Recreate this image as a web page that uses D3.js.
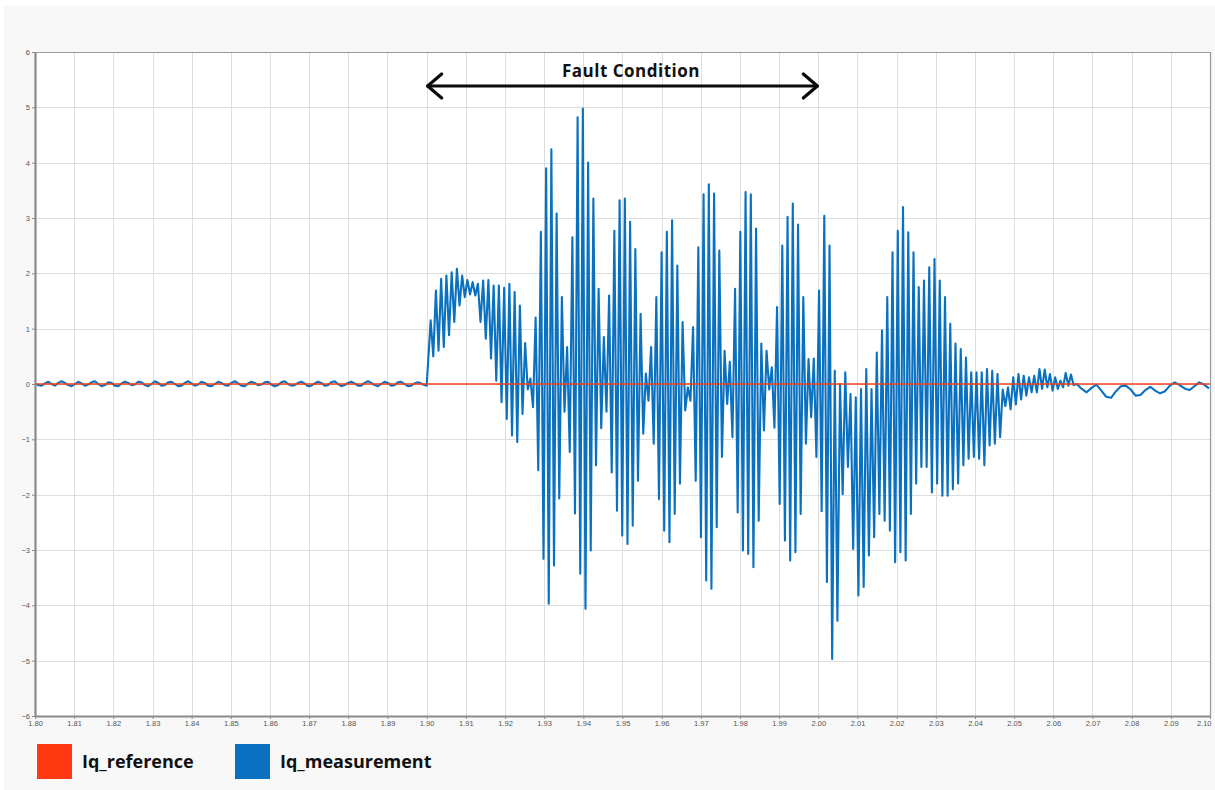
<!DOCTYPE html>
<html>
<head>
<meta charset="utf-8">
<script src="https://cdn.jsdelivr.net/npm/d3@7"></script>
<style>
  html, body { margin: 0; padding: 0; background: #ffffff; }
  svg { display: block; }
</style>
</head>
<body>
<svg id="chart" width="1215" height="790"></svg>
<script>
// ---- Series: Iq measurement (pu) ----
// Steady state before the fault, sampled every 0.85 ms from t = 1.80 s
const preFaultStart = 1.80;
const preFaultStep = 0.00085;
const preFault = [
  0.0, -0.02, -0.03, 0.01, 0.04, 0.0, -0.03, 0.02, 0.05, 0.02,
  -0.02, -0.04, 0.0, 0.04, 0.01, -0.03, -0.01, 0.03, 0.05, 0.0,
  -0.04, -0.02, 0.03, 0.02, -0.03, -0.04, 0.01, 0.04, 0.02, -0.02,
  -0.01, 0.04, 0.03, -0.02, -0.04, 0.0, 0.05, 0.02, -0.03, -0.02,
  0.03, 0.04, 0.0, -0.04, -0.03, 0.02, 0.05, 0.01, -0.03, -0.01,
  0.04, 0.02, -0.03, -0.04, 0.0, 0.04, 0.02, -0.02, -0.03, 0.02,
  0.05, 0.01, -0.03, -0.04, 0.01, 0.04, 0.02, -0.02, -0.01, 0.03,
  0.04, -0.01, -0.04, -0.02, 0.03, 0.05, 0.0, -0.03, -0.02, 0.02,
  0.04, 0.01, -0.04, -0.03, 0.01, 0.04, 0.02, -0.03, -0.02, 0.03,
  0.05, 0.0, -0.04, -0.02, 0.02, 0.04, 0.01, -0.03, -0.03, 0.02,
  0.05, 0.02, -0.02, -0.04, 0.0, 0.04, 0.02, -0.03, -0.02, 0.03,
  0.04, 0.0, -0.04, -0.03, 0.01, 0.03, 0.01, -0.02
];

// Fault onset
const onsetTime = 1.9000;
const onsetValue = -0.03;

// Oscillation during and after the fault: one peak and one trough per cycle
const faultStart = 1.90102;
const faultHalfPeriod = 0.00067;
const faultPeaks = [
  1.15, 1.69, 1.9, 1.96, 2.02, 2.08, 1.96, 1.88, 1.84, 1.81,
  1.87, 1.88, 1.78, 1.78, 1.74, 1.81, 1.66, 1.42, 0.74, 0.1,
  1.2, 2.75, 3.9, 4.24, 3.08, 1.57, 0.67, 2.65, 4.82, 4.98,
  4.0, 3.35, 1.72, 0.85, 1.6, 2.77, 3.32, 3.35, 2.93, 2.44,
  1.27, 0.19, 0.67, 1.57, 2.38, 2.75, 2.96, 2.14, 1.12, -0.06,
  1.03, 2.47, 3.43, 3.61, 3.44, 2.41, 0.6, 0.4, 1.72, 2.75,
  3.47, 3.43, 2.81, 0.73, 0.6, 0.3, 1.39, 2.5, 3.02, 3.26,
  2.88, 1.57, 0.45, 0.46, 1.69, 3.04, 2.5, 0.24, 0.0, 0.21,
  -0.18, -0.24, -0.09, 0.27, -0.09, 0.57, 0.97, 1.57, 2.38, 2.77,
  3.2, 2.74, 2.38, 1.75, 1.87, 2.11, 2.26, 1.87, 1.57, 1.09,
  0.73, 0.63, 0.48, 0.21, 0.21, 0.21, 0.27, 0.24, 0.18, -0.1,
  -0.06, 0.12, 0.18, 0.15, 0.12, 0.15, 0.27, 0.26, 0.18, 0.12,
  0.06, 0.2, 0.17
];
const faultTroughs = [
  0.5, 0.6, 0.67, 0.88, 1.12, 1.42, 1.57, 1.62, 1.6, 1.12,
  0.82, 0.46, 0.06, -0.33, -0.63, -0.93, -1.05, -0.54, -0.1, -0.42,
  -1.56, -3.16, -3.97, -3.28, -2.07, -0.5, -1.23, -2.34, -3.43, -4.06,
  -3.01, -1.47, -0.8, -0.5, -1.6, -2.29, -2.74, -2.89, -2.56, -1.75,
  -0.9, -0.3, -1.08, -2.08, -2.65, -2.86, -2.35, -1.8, -0.48, -0.3,
  -1.75, -2.77, -3.55, -3.7, -2.59, -1.32, -0.36, -0.96, -2.32, -3.01,
  -3.07, -3.31, -2.47, -0.84, -0.1, -0.79, -2.17, -2.83, -3.19, -3.04,
  -2.35, -1.08, -0.6, -1.32, -2.3, -3.58, -4.97, -4.28, -1.99, -1.5,
  -2.98, -3.82, -3.67, -3.1, -2.77, -2.35, -2.47, -2.65, -3.22, -3.04,
  -3.19, -2.35, -1.8, -1.5, -1.5, -1.96, -1.8, -2.02, -2.02, -1.9,
  -1.8, -1.47, -1.35, -1.32, -1.35, -1.47, -1.11, -1.08, -0.96, -0.4,
  -0.46, -0.37, -0.28, -0.21, -0.15, -0.15, -0.09, -0.06, -0.12, -0.09,
  -0.06, -0.03, -0.02
];

// Slow settling after recovery, sampled every 1.25 ms
const postFaultStart = 2.0660;
const postFaultStep = 0.00125;
const postFault = [
  0.0, -0.09, -0.15, -0.07, -0.01, -0.12, -0.23, -0.25, -0.13, -0.04,
  -0.03, -0.1, -0.21, -0.2, -0.11, -0.05, -0.12, -0.17, -0.13, -0.03,
  0.03, -0.02, -0.08, -0.11, -0.04, 0.03, -0.01, -0.08
];

// ---- Series: Iq reference ----
const referenceTimes = [1.80, 2.10];
const referenceValues = [0, 0];

// ---- Axes ----
const xDomain = [1.80, 2.10];
const yDomain = [-6, 6];
const xTickValues = [1.80, 1.81, 1.82, 1.83, 1.84, 1.85, 1.86, 1.87, 1.88, 1.89, 1.90,
  1.91, 1.92, 1.93, 1.94, 1.95, 1.96, 1.97, 1.98, 1.99, 2.00,
  2.01, 2.02, 2.03, 2.04, 2.05, 2.06, 2.07, 2.08, 2.09, 2.10];
const yTickValues = [-6, -5, -4, -3, -2, -1, 0, 1, 2, 3, 4, 5, 6];

// ---- Annotation & legend ----
const faultWindow = [1.90, 2.00];
const faultLabel = "Fault Condition";
const legendItems = [
  { name: "Iq_reference", color: "#ff3a12" },
  { name: "Iq_measurement", color: "#0a70c0" }
];

// Assemble the measurement samples
const measurement = [];
preFault.forEach((v, i) => measurement.push([preFaultStart + i * preFaultStep, v]));
measurement.push([onsetTime, onsetValue]);
faultPeaks.forEach((p, i) => {
  const t = faultStart + 2 * i * faultHalfPeriod;
  measurement.push([t, p]);
  measurement.push([t + faultHalfPeriod, faultTroughs[i]]);
});
postFault.forEach((v, i) => measurement.push([postFaultStart + i * postFaultStep, v]));

const reference = referenceTimes.map((t, i) => [t, referenceValues[i]]);

// ---- Drawing ----
const svg = d3.select("#chart");
const W = 1215, H = 790;
const plot = { left: 35, right: 1210, top: 52, bottom: 716 };

svg.append("rect").attr("x", 0).attr("y", 0).attr("width", W).attr("height", H).attr("fill", "#ffffff");
svg.append("rect").attr("x", 4).attr("y", 6).attr("width", W - 4).attr("height", H - 6).attr("fill", "#f8f8f8");

const x = d3.scaleLinear().domain(xDomain).range([plot.left, plot.right]);
const y = d3.scaleLinear().domain(yDomain).range([plot.bottom, plot.top]);

svg.append("rect")
  .attr("x", plot.left).attr("y", plot.top)
  .attr("width", plot.right - plot.left).attr("height", plot.bottom - plot.top)
  .attr("fill", "#ffffff");

// Grid
const grid = svg.append("g").attr("stroke", "#dedede").attr("stroke-width", 1);
grid.selectAll("line.v").data(xTickValues).join("line")
  .attr("class", "v")
  .attr("x1", d => Math.round(x(d)) + 0.5).attr("x2", d => Math.round(x(d)) + 0.5)
  .attr("y1", plot.top).attr("y2", plot.bottom);
grid.selectAll("line.h").data(yTickValues).join("line")
  .attr("class", "h")
  .attr("x1", plot.left).attr("x2", plot.right)
  .attr("y1", d => Math.round(y(d)) + 0.5).attr("y2", d => Math.round(y(d)) + 0.5);

// Frame (top and right)
svg.append("line").attr("x1", plot.left).attr("x2", plot.right)
  .attr("y1", plot.top + 0.5).attr("y2", plot.top + 0.5)
  .attr("stroke", "#9a9a9a").attr("stroke-width", 1.2);
svg.append("line").attr("x1", plot.right + 0.5).attr("x2", plot.right + 0.5)
  .attr("y1", plot.top).attr("y2", plot.bottom)
  .attr("stroke", "#9a9a9a").attr("stroke-width", 1.2);

// Measurement line
const line = d3.line().x(d => x(d[0])).y(d => y(d[1]));
svg.append("path")
  .datum(measurement)
  .attr("d", line)
  .attr("fill", "none")
  .attr("stroke", legendItems[1].color)
  .attr("stroke-width", 2.1)
  .attr("stroke-linejoin", "round");

// Reference line
svg.append("path")
  .datum(reference)
  .attr("d", line)
  .attr("fill", "none")
  .attr("stroke", "#f4411f")
  .attr("stroke-width", 1.6);

// Axes
const axisFont = "'Liberation Sans', Arial, sans-serif";
const yAxis = svg.append("g")
  .attr("transform", `translate(${plot.left},0)`)
  .call(d3.axisLeft(y).tickValues(yTickValues).tickSize(3).tickSizeOuter(0).tickPadding(2).tickFormat(d3.format("d")));
const xAxis = svg.append("g")
  .attr("transform", `translate(0,${plot.bottom})`)
  .call(d3.axisBottom(x).tickValues(xTickValues).tickSize(3).tickSizeOuter(0).tickPadding(2).tickFormat(d3.format(".2f")));
[yAxis, xAxis].forEach(a => {
  a.select(".domain").attr("stroke", "#8a8a8a").attr("stroke-width", 2.2);
  a.selectAll(".tick line").attr("stroke", "#8a8a8a");
  a.selectAll(".tick text").attr("fill", "#555").style("font-family", axisFont).style("font-size", "7.5px");
});
// keep the last time label inside the panel
xAxis.selectAll(".tick").filter(d => d === xDomain[1]).select("text")
  .attr("text-anchor", "end").attr("dx", "1px");

// Fault window annotation
const arrowY = 86;
const xa = x(faultWindow[0]), xb = x(faultWindow[1]);
const arrow = svg.append("g").attr("stroke", "#0a0a0a").attr("stroke-width", 3.2)
  .attr("fill", "none").attr("stroke-linecap", "round").attr("stroke-linejoin", "round");
arrow.append("line").attr("x1", xa + 1).attr("x2", xb - 1).attr("y1", arrowY).attr("y2", arrowY);
arrow.append("path").attr("d", `M${xa + 15},${arrowY - 12} L${xa + 1},${arrowY} L${xa + 15},${arrowY + 12}`);
arrow.append("path").attr("d", `M${xb - 15},${arrowY - 12} L${xb - 1},${arrowY} L${xb - 15},${arrowY + 12}`);

svg.append("text")
  .attr("x", 631).attr("y", 77)
  .attr("text-anchor", "middle")
  .style("font-family", "'Open Sans', sans-serif")
  .style("font-weight", 700)
  .style("font-size", "17px")
  .style("letter-spacing", "0.5px")
  .attr("fill", "#111")
  .text(faultLabel);

// Legend
const legend = svg.append("g");
const legendX = [37, 235];
legendItems.forEach((item, i) => {
  const g = legend.append("g").attr("transform", `translate(${legendX[i]},744)`);
  g.append("rect").attr("width", 35).attr("height", 35).attr("fill", item.color);
  g.append("text").attr("x", 45).attr("y", 24)
    .style("font-family", "'Open Sans', sans-serif")
    .style("font-weight", 700)
    .style("font-size", "18px")
    .attr("fill", "#111")
    .text(item.name);
});
</script>
</body>
</html>
